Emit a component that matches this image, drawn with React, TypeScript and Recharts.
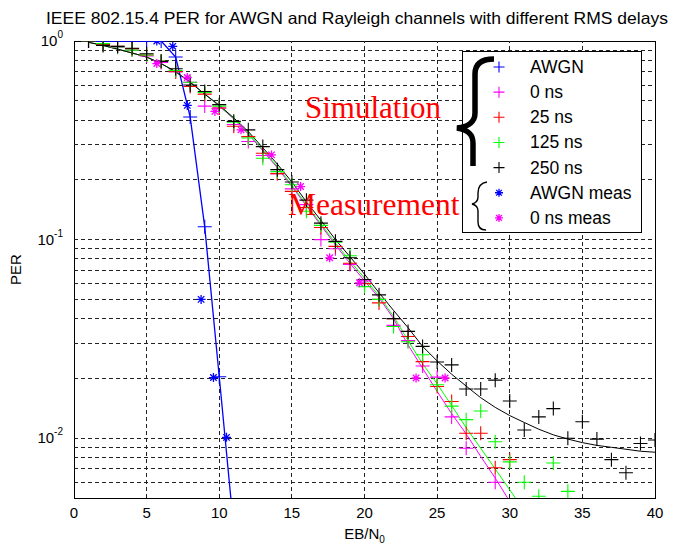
import { ComposedChart, Line, Scatter, XAxis, YAxis, ReferenceLine, ReferenceArea, Legend, Label } from 'recharts';

const SANS = "'Liberation Sans', Arial, Helvetica, sans-serif";
const SERIF = "'Liberation Serif', 'Times New Roman', serif";

// Eb/N0 grid used by the Rayleigh simulations
const snr = [1, 2, 3, 4, 5, 6, 7, 8, 9, 10, 11, 12, 13, 14, 15, 16, 17, 18, 19, 20,
  21, 22, 23, 24, 25, 26, 27, 28, 29, 30, 31, 32, 33, 34, 35, 36, 37, 38, 39, 40];

const per0ns = [1.0, 0.97, 0.93, 0.9, 0.84, 0.78, 0.7, 0.62, 0.47, 0.46, 0.38, 0.312, 0.265, 0.215, 0.18, 0.15, 0.1, 0.09, 0.075, 0.062,
  0.05, 0.037, 0.031, 0.0231, 0.0203, 0.0128, 0.0089, null, 0.006, null, null, null, null, null, null, null, null, null, null, null];
const per25ns = [1.0, 0.96, 0.94, 0.915, 0.85, 0.79, 0.7, 0.59, 0.54, 0.46, 0.372, 0.33, 0.272, 0.215, 0.175, 0.145, 0.115, 0.0925, 0.076, 0.06,
  0.048, 0.04, 0.0325, 0.0243, 0.0182, 0.0153, 0.0106, 0.0106, 0.0071, 0.0078, null, null, null, null, null, null, null, null, null, null];
const per125ns = [1.0, 0.97, 0.933, 0.9, 0.85, 0.79, 0.71, 0.62, 0.55, 0.47, 0.39, 0.325, 0.257, 0.22, 0.189, 0.139, 0.118, 0.097, 0.083, 0.058,
  0.05, 0.0365, 0.0306, 0.0263, 0.0186, 0.0145, 0.0124, 0.0137, 0.0096, 0.0076, 0.006, 0.0051, 0.0075, 0.0054, null, null, null, null, null, null];
const per250ns = [1.0, 0.95, 0.94, 0.92, 0.863, 0.79, 0.725, 0.6, 0.557, 0.478, 0.394, 0.357, 0.294, 0.225, 0.195, 0.158, 0.121, 0.098, 0.081, 0.063,
  0.0527, 0.04, 0.0345, 0.029, 0.0242, 0.0234, 0.0177, 0.0177, 0.0196, 0.0154, 0.011, 0.0128, 0.0141, 0.01, 0.0121, 0.0099, 0.0078, 0.0067, 0.0094, 0.0098];

// fitted curves
const fit250 = [0.985, 0.95, 0.91, 0.87, 0.83, 0.77, 0.7, 0.62, 0.54, 0.475, 0.41, 0.35, 0.29, 0.24, 0.195, 0.155, 0.125, 0.1, 0.082, 0.067,
  0.054, 0.044, 0.036, 0.029, 0.0245, 0.021, 0.0183, 0.016, 0.0143, 0.013, 0.012, 0.0111, 0.0104, 0.0099, 0.0095, 0.0092, 0.009, 0.0088, 0.0086, 0.0085];
const fit125 = [0.985, 0.95, 0.91, 0.87, 0.83, 0.77, 0.7, 0.62, 0.54, 0.472, 0.407, 0.343, 0.283, 0.233, 0.188, 0.15, 0.12, 0.096, 0.078, 0.064,
  0.052, 0.041, 0.031, 0.0237, 0.0188, 0.0146, 0.0113, 0.0089, 0.007, 0.0055, 0.0043];
const fit0 = [0.985, 0.95, 0.91, 0.87, 0.83, 0.77, 0.7, 0.62, 0.54, 0.47, 0.405, 0.34, 0.28, 0.23, 0.185, 0.148, 0.118, 0.094, 0.076, 0.062,
  0.051, 0.04, 0.0295, 0.0225, 0.0172, 0.0133, 0.0105, 0.0081, 0.0063, 0.0048];

const awgnX = [1, 2, 3, 4, 5, 6, 7, 8, 9, 10, 11];
const awgnPer = [1.0, 1.0, 1.0, 1.0, 1.0, 1.0, 0.83, 0.414, 0.116, 0.0204, 0.0035];

const awgnMeasX = [5.7, 6.8, 7.8, 8.75, 9.6, 10.5];
const awgnMeasPer = [1.0, 0.94, 0.474, 0.05, 0.0202, 0.0101];

const meas0X = [5.7, 7.8, 9.7, 11.5, 13.6, 15.6, 17.6, 19.65, 23.55, 25.55];
const meas0Per = [0.77, 0.655, 0.442, 0.357, 0.267, 0.185, 0.081, 0.0606, 0.0201, 0.0201];

const xTicks = [0, 5, 10, 15, 20, 25, 30, 35, 40];
const yTicks = [0.01, 0.1, 1];
const xGrid = [5, 10, 15, 20, 25, 30, 35];
const yGrid = [0.006, 0.007, 0.008, 0.009, 0.01, 0.02, 0.03, 0.04, 0.05, 0.06, 0.07, 0.08, 0.09,
  0.1, 0.2, 0.3, 0.4, 0.5, 0.6, 0.7, 0.8, 0.9];

const Y_MIN = 0.005;

const zip = (xs: number[], ys: (number | null)[]) =>
  xs.map((x, i) => ({ x, y: ys[i] })).filter((p) => p.y != null) as { x: number; y: number }[];
const visible = (pts: { x: number; y: number }[]) => pts.filter((p) => p.y >= Y_MIN);

const legendItems = [
  { name: 'AWGN', color: '#0000ff', mark: 'plus' },
  { name: '0 ns', color: '#ff00ff', mark: 'plus' },
  { name: '25 ns', color: '#ff0000', mark: 'plus' },
  { name: '125 ns', color: '#00ff00', mark: 'plus' },
  { name: '250 ns', color: '#000000', mark: 'plus' },
  { name: 'AWGN meas', color: '#0000ff', mark: 'star' },
  { name: '0 ns meas', color: '#ff00ff', mark: 'star' },
];

function Plus({ cx, cy, color, r = 7 }: { cx: number; cy: number; color: string; r?: number }) {
  return <path d={`M${cx - r},${cy}H${cx + r}M${cx},${cy - r}V${cy + r}`} stroke={color} strokeWidth={1.1} fill="none" />;
}

function Star({ cx, cy, color, r = 4.5 }: { cx: number; cy: number; color: string; r?: number }) {
  const d = r * 0.72;
  return (
    <path
      d={`M${cx - r},${cy}H${cx + r}M${cx},${cy - r}V${cy + r}M${cx - d},${cy - d}L${cx + d},${cy + d}M${cx - d},${cy + d}L${cx + d},${cy - d}`}
      stroke={color}
      strokeWidth={1.3}
      fill="none"
    />
  );
}

const plusShape = (color: string) => (p: any) => <Plus cx={p.cx} cy={p.cy} color={color} />;
const starShape = (color: string) => (p: any) => <Star cx={p.cx} cy={p.cy} color={color} />;

function YTick(props: any) {
  const { x, y, payload } = props;
  const exp = Math.round(Math.log10(payload.value));
  return (
    <text x={x} y={y + 5} textAnchor="end" fontFamily={SANS} fontSize={15} fill="#000">
      <tspan>10</tspan>
      <tspan dy={-8} fontSize={10}>{String(exp)}</tspan>
    </text>
  );
}

function XLabel(props: any) {
  const vb = props.viewBox;
  return (
    <text x={vb.x + vb.width / 2} y={vb.y + 41} textAnchor="middle" fontFamily={SANS} fontSize={15} fill="#000">
      <tspan>EB/N</tspan>
      <tspan dy={4} fontSize={10}>0</tspan>
    </text>
  );
}

function YLabel(props: any) {
  const vb = props.viewBox;
  const cy = vb.y + vb.height / 2;
  return (
    <text x={21} y={cy} transform={`rotate(-90 21 ${cy})`} textAnchor="middle" fontFamily={SANS} fontSize={15} fill="#000">
      PER
    </text>
  );
}

function LegendBox() {
  return (
    <div style={{ width: 180, height: 182, border: '1px solid #000', background: '#fff', boxSizing: 'border-box' }}>
      <svg width={178} height={180} style={{ display: 'block' }}>
        {legendItems.map((it, i) => {
          const cy = 15 + i * 25.15;
          return (
            <g key={it.name}>
              {it.mark === 'plus' ? <Plus cx={36} cy={cy} color={it.color} r={5.5} /> : <Star cx={36} cy={cy} color={it.color} r={4} />}
              <text x={67} y={cy + 6} fontFamily={SANS} fontSize={17.5} fill="#000">{it.name}</text>
            </g>
          );
        })}
      </svg>
    </div>
  );
}

export default function App() {
  return (
    <div style={{ position: 'absolute', left: 0, top: 0, width: 675, height: 548, background: '#fff' }}>
      <ComposedChart width={675} height={548} margin={{ top: 41, right: 20, bottom: 20, left: 0 }}>
        <XAxis
          type="number"
          dataKey="x"
          domain={[0, 40]}
          ticks={xTicks}
          allowDataOverflow
          tickLine={false}
          axisLine={false}
          tickSize={4}
          tickMargin={5}
          height={30}
          tick={{ fontFamily: SANS, fontSize: 15, fill: '#000' }}
        >
          <Label content={XLabel} />
        </XAxis>
        <YAxis
          type="number"
          dataKey="y"
          scale="log"
          domain={[Y_MIN, 1]}
          ticks={yTicks}
          allowDataOverflow
          tickLine={false}
          axisLine={false}
          tickSize={4}
          tickMargin={7}
          width={74}
          tick={<YTick />}
        >
          <Label content={YLabel} />
        </YAxis>

        {xGrid.map((v) => (
          <ReferenceLine key={`gx${v}`} x={v} stroke="#222" strokeDasharray="4 3" shapeRendering="crispEdges" />
        ))}
        {yGrid.map((v) => (
          <ReferenceLine key={`gy${v}`} y={v} stroke="#222" strokeDasharray="4 3" shapeRendering="crispEdges" />
        ))}
        <ReferenceArea x1={0} x2={40} y1={Y_MIN} y2={1} fill="none" stroke="#000" strokeWidth={1} fillOpacity={0} shapeRendering="crispEdges" />

        <Line data={zip(awgnX, awgnPer)} dataKey="y" stroke="#0000ff" strokeWidth={1.3} dot={false} activeDot={false} isAnimationActive={false} />
        <Line data={zip(snr, fit0)} dataKey="y" stroke="#ff00ff" strokeWidth={1} dot={false} activeDot={false} isAnimationActive={false} />
        <Line data={zip(snr, fit125)} dataKey="y" stroke="#00ff00" strokeWidth={1} dot={false} activeDot={false} isAnimationActive={false} />
        <Line data={zip(snr, fit250)} dataKey="y" stroke="#000000" strokeWidth={1} dot={false} activeDot={false} isAnimationActive={false} />

        <Scatter name="AWGN" data={visible(zip(awgnX, awgnPer))} shape={plusShape('#0000ff')} isAnimationActive={false} />
        <Scatter name="0 ns" data={visible(zip(snr, per0ns))} shape={plusShape('#ff00ff')} isAnimationActive={false} />
        <Scatter name="25 ns" data={visible(zip(snr, per25ns))} shape={plusShape('#ff0000')} isAnimationActive={false} />
        <Scatter name="125 ns" data={visible(zip(snr, per125ns))} shape={plusShape('#00ff00')} isAnimationActive={false} />
        <Scatter name="250 ns" data={visible(zip(snr, per250ns))} shape={plusShape('#000000')} isAnimationActive={false} />
        <Scatter name="AWGN meas" data={zip(awgnMeasX, awgnMeasPer)} shape={starShape('#0000ff')} isAnimationActive={false} />
        <Scatter name="0 ns meas" data={zip(meas0X, meas0Per)} shape={starShape('#ff00ff')} isAnimationActive={false} />

        <Legend
          layout="horizontal"
          align="center"
          verticalAlign="middle"
          content={LegendBox}
          wrapperStyle={{ position: 'absolute', left: 462, top: 51, width: 180, height: 182 }}
        />
      </ComposedChart>

      <svg width={675} height={548} style={{ position: 'absolute', left: 0, top: 0, pointerEvents: 'none' }}>
        <text x={46} y={24} fontFamily={SANS} fontSize={16.5} fill="#000" textLength={622} lengthAdjust="spacingAndGlyphs">
          IEEE 802.15.4 PER for AWGN and Rayleigh channels with different RMS delays
        </text>
        <text x={305} y={118} fontFamily={SERIF} fontSize={31} fill="#ff0000">Simulation</text>
        <text x={288} y={215} fontFamily={SERIF} fontSize={31.5} fill="#ff0000">Measurement</text>
        <path
          d="M494 59 C481 59 475 64 475 74 L475 113 C475 121 469 127 457 128 C469 130 473 135 473 143 L473 166"
          stroke="#000"
          strokeWidth={5.5}
          fill="none"
        />
        <path
          d="M487 182 C480 183 478 187 478 193 L478 197 C478 201 476 203 472 204 C476 205 478 207 478 211 L478 222 C478 227 480 230 486 230"
          stroke="#000"
          strokeWidth={1.4}
          fill="none"
        />
      </svg>
    </div>
  );
}
